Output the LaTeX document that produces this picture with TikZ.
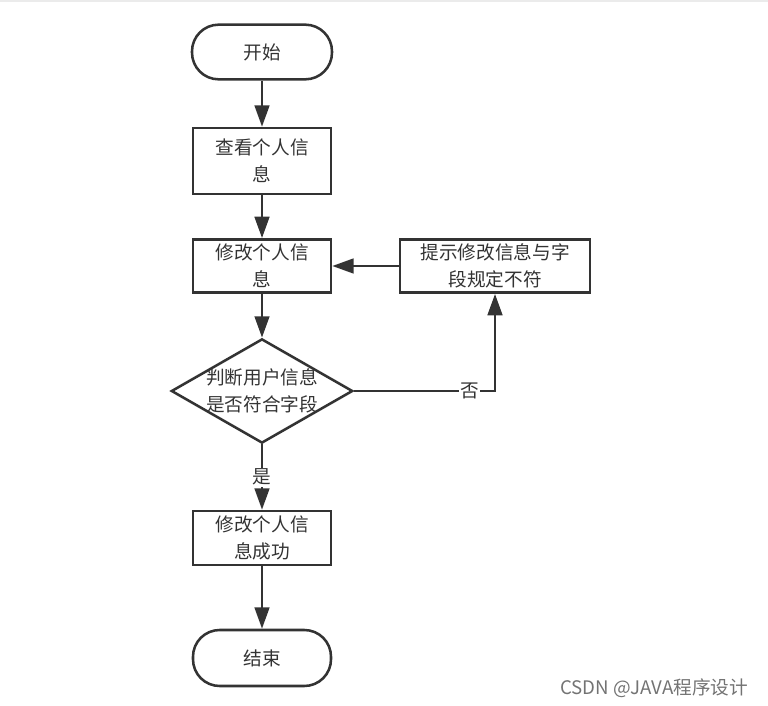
\documentclass[tikz,border=0pt]{standalone}
\usepackage{fontspec}
\newfontfamily\cjk{Noto Sans CJK SC}
\usetikzlibrary{arrows.meta,positioning,shapes.geometric}
\definecolor{linegray}{HTML}{333333}

\begin{document}
\begin{tikzpicture}[
  x=0.75pt, y=-0.75pt,
  every node/.style={font=\cjk\fontsize{14pt}{20pt}\selectfont, text=black!80, align=center},
  term/.style={draw=linegray, line width=1.9pt, rounded corners=20pt, minimum width=105pt, minimum height=41pt},
  proc/.style={draw=linegray, line width=1.9pt, minimum width=103.5pt, minimum height=40pt, inner sep=1pt},
  decision/.style={diamond, draw=linegray, line width=1.9pt, aspect=1.74, inner sep=-1pt},
  answer/.style={fill=white, inner sep=1pt},
  arr/.style={draw=linegray, line width=1.9pt, -{Triangle[length=16pt, width=11pt]}}
]
  \useasboundingbox (0,0) rectangle (768,706);
  \fill[black!8] (0,0) rectangle (768,2);

  % main column
  \node[term] (start) at (262,52) {开始};
  \node[proc, minimum height=49.5pt] (view) at (262,161) {查看个人信\\息};
  \node[proc] (edit) at (262,266) {修改个人信\\息};
  \node[decision] (check) at (262,391) {判断用户信息\\是否符合字段};
  \node[proc, minimum height=40.5pt] (done) at (262,538) {修改个人信\\息成功};
  \node[term, minimum width=103.5pt, minimum height=42pt] (stop) at (262,658) {结束};

  % retry branch
  \node[proc, minimum width=142.5pt] (hint) at (495,266) {提示修改信息与字\\段规定不符};

  \draw[arr] (start) -- (view);
  \draw[arr] (view) -- (edit);
  \draw[arr] (edit) -- (check);
  \draw[arr] (check) -- node[answer] {是} (done);
  \draw[arr] (done) -- (stop);
  \draw[arr] (check.east) -| node[answer, pos=0.41] {否} (hint.south);
  \draw[arr] (hint) -- (edit);

  \node[font=\cjk\fontsize{14pt}{16pt}\selectfont, text=black!55, anchor=east] (mark) at (753,688) {CSDN @JAVA程序设计};
\end{tikzpicture}
\end{document}
